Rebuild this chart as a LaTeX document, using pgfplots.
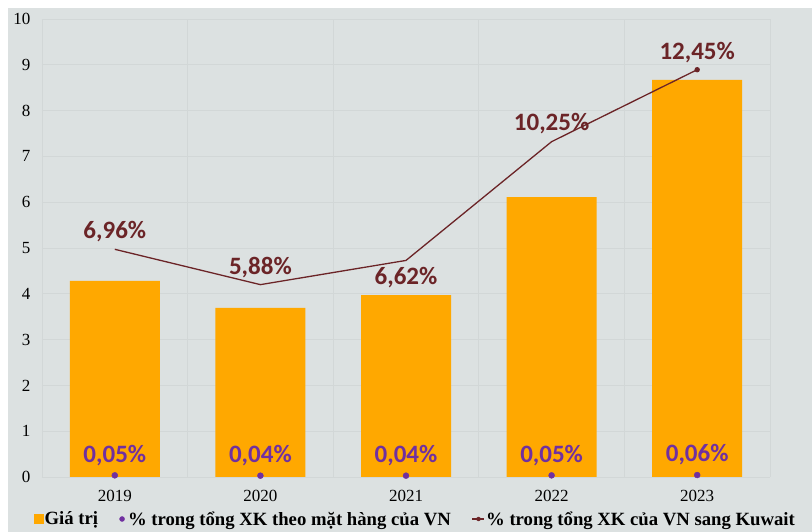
\documentclass[border=0pt]{standalone}
\usepackage{fontspec}
\setmainfont{Liberation Serif}
\newfontfamily\carlito{Carlito}
\usepackage{pgfplots}
\pgfplotsset{compat=1.18}
\definecolor{bg}{HTML}{DCE1E1}
\definecolor{gridc}{HTML}{D2D7D7}
\definecolor{barorange}{HTML}{FFA800}
\definecolor{dotpurple}{HTML}{7030A0}
\definecolor{linebrown}{HTML}{6B2427}
\begin{document}
\begin{tikzpicture}
\path[use as bounding box] (-42pt,-55pt) rectangle (770pt,477pt);
\fill[white] (-42pt,-55pt) rectangle (770pt,477pt);
\fill[bg] (-34pt,-55pt) rectangle (770pt,469pt);
\begin{axis}[at={(0pt,0pt)}, anchor=south west, scale only axis,
  width=728pt, height=458pt,
  xmin=-0.5, xmax=4.5, ymin=0, ymax=10,
  ytick={0,1,...,10}, xtick={0,1,2,3,4},
  xticklabels={2019,2020,2021,2022,2023},
  minor xtick={-0.5,0.5,1.5,2.5,3.5,4.5},
  xminorgrids, ymajorgrids,
  major grid style={gridc, line width=0.8pt},
  minor grid style={gridc, line width=0.8pt},
  axis line style={draw=none}, tick style={draw=none},
  major tick length=0pt, minor tick length=0pt,
  ticklabel style={font=\fontsize{17}{17}\selectfont},
  /pgf/number format/assume math mode=true,
  yticklabel style={xshift=-8pt},
  xticklabel style={yshift=-10pt},
  clip=false,
  legend columns=3,
  legend style={draw=none, fill=none, at={(-0.011,-0.0917)}, anchor=west,
    font=\bfseries\fontsize{18.7}{18.7}\selectfont,
    /tikz/every even column/.append style={column sep=20pt},
    inner sep=0pt, nodes={inner sep=1pt}},
]
\addplot[ybar, bar width=90pt, fill=barorange, draw=none, forget plot]
  coordinates {(0,4.28) (1,3.69) (2,3.97) (3,6.11) (4,8.67)};
\addlegendimage{legend image code/.code={\fill[barorange] (0pt,-4.5pt) rectangle (9pt,4.5pt);}}
\addlegendentry{Giá trị}
\addlegendimage{legend image code/.code={\path[draw=none,fill=none] (0pt,-3pt) rectangle (8pt,3pt); \fill[dotpurple] (3pt,0pt) circle (2.5pt);}}
\addlegendentry{\% trong tổng XK theo mặt hàng của VN}
\addlegendimage{legend image code/.code={\path[draw=none,fill=none] (0pt,-3pt) rectangle (12pt,3pt); \draw[linebrown,line width=1.3pt] (0pt,0pt) -- (12pt,0pt); \fill[linebrown] (6pt,0pt) circle (2pt);}}
\addlegendentry{\% trong tổng XK của VN sang Kuwait}
\end{axis}
\begin{axis}[at={(0pt,0pt)}, anchor=south west, scale only axis,
  width=728pt, height=458pt,
  xmin=-0.5, xmax=4.5, ymin=0, ymax=14, hide axis, clip=false]
\addplot[linebrown, line width=1.3pt, mark=*, mark size=2pt, mark indices={5}]
  coordinates {(0,6.96) (1,5.88) (2,6.62) (3,10.25) (4,12.45)};
\addplot[only marks, mark=*, mark size=3pt, dotpurple]
  coordinates {(0,0.05) (1,0.04) (2,0.04) (3,0.05) (4,0.06)};
\begin{scope}[every node/.style={font=\carlito\bfseries\fontsize{25}{25}\selectfont, text=linebrown}]
\node[yshift=18pt] at (axis cs:0,6.96) {6,96\%};
\node[yshift=17pt] at (axis cs:1,5.88) {5,88\%};
\node[yshift=-17pt] at (axis cs:2,6.62) {6,62\%};
\node[yshift=18pt] at (axis cs:3,10.25) {10,25\%};
\node[yshift=17pt] at (axis cs:4,12.45) {12,45\%};
\end{scope}
\begin{scope}[every node/.style={font=\carlito\bfseries\fontsize{25}{25}\selectfont, text=dotpurple}]
\node[yshift=20pt] at (axis cs:0,0.05) {0,05\%};
\node[yshift=20pt] at (axis cs:1,0.04) {0,04\%};
\node[yshift=20pt] at (axis cs:2,0.04) {0,04\%};
\node[yshift=20pt] at (axis cs:3,0.05) {0,05\%};
\node[yshift=20pt] at (axis cs:4,0.06) {0,06\%};
\end{scope}
\end{axis}
\end{tikzpicture}
\end{document}
